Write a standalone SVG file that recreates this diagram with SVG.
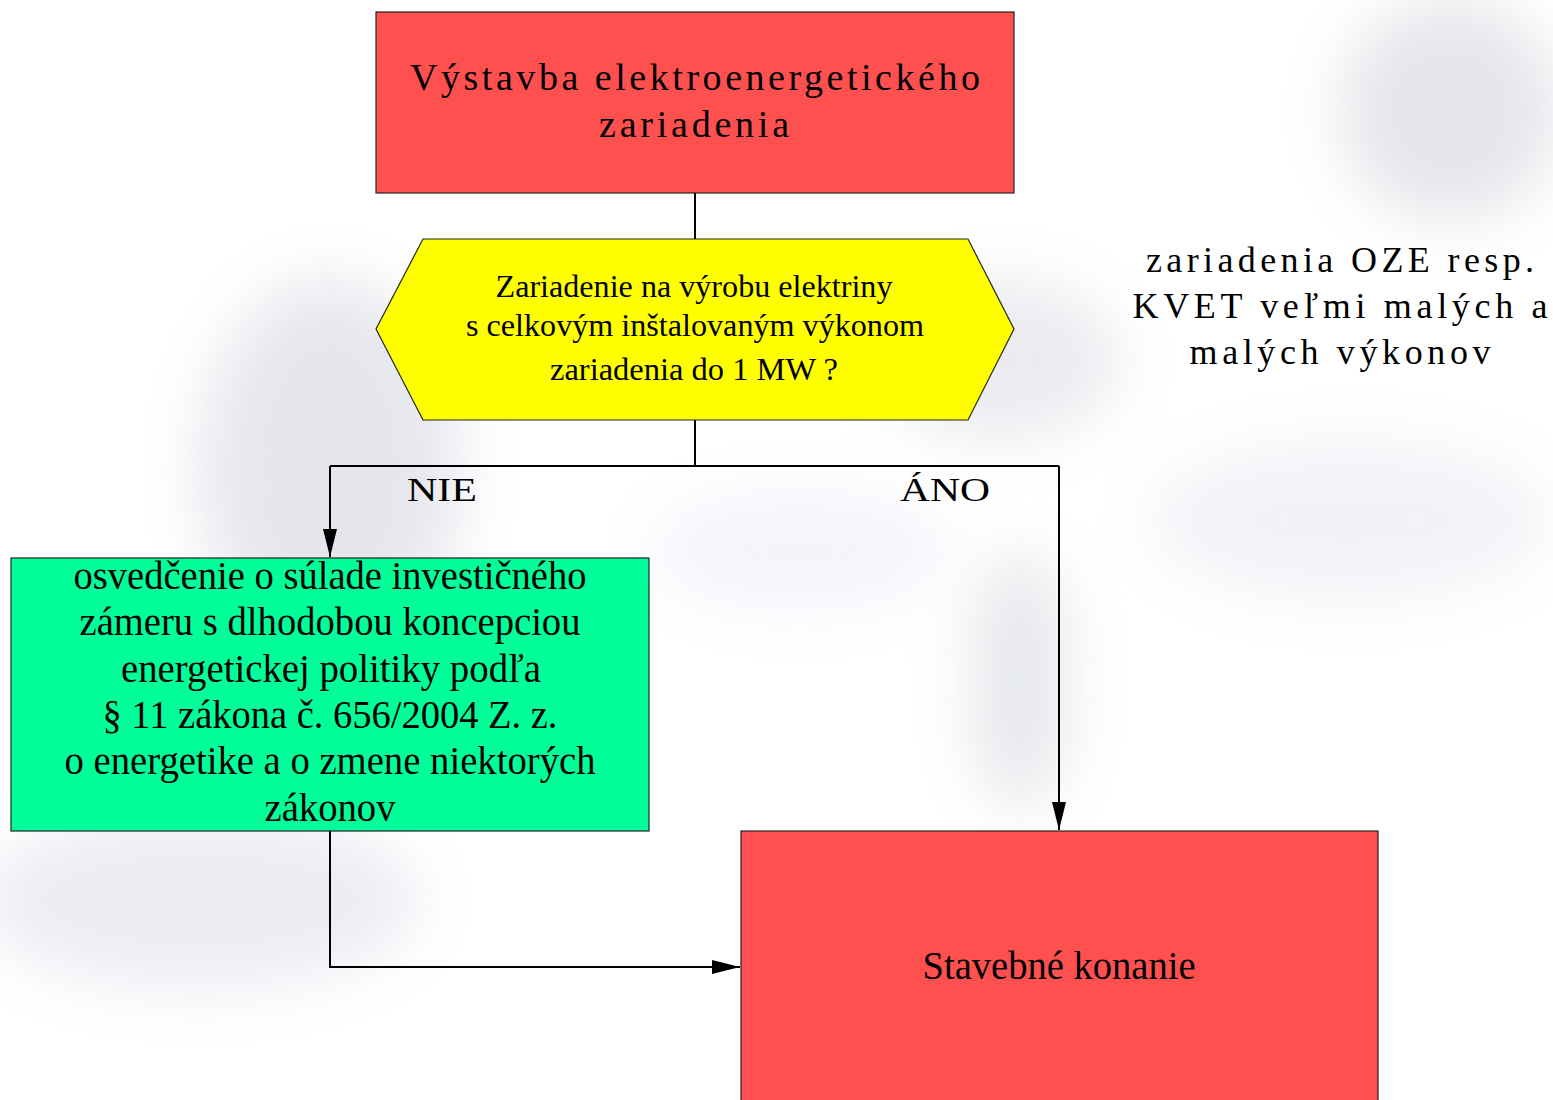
<svg xmlns="http://www.w3.org/2000/svg" width="1553" height="1100" viewBox="0 0 1553 1100">
<defs>
<style>
.box{stroke:#222;stroke-width:1.2}
.red{fill:#FF5050}
.yel{fill:#FFFF00}
.grn{fill:#00FF99}
.t{font-family:"Liberation Serif","Times New Roman",serif;fill:#000;text-anchor:middle}
.c{stroke:#000;stroke-width:2;fill:none}
</style>
<marker id="arr" viewBox="0 0 28 14" refX="28" refY="7" markerWidth="28" markerHeight="14" markerUnits="userSpaceOnUse" orient="auto">
<path d="M0,0 L28,7 L0,14 z" fill="#000"/>
</marker>
<filter id="bl" x="-50%" y="-50%" width="200%" height="200%"><feGaussianBlur stdDeviation="30"/></filter>
</defs>
<rect width="1553" height="1100" fill="#fff"/>
<g id="background" filter="url(#bl)" opacity="0.45">
<ellipse cx="330" cy="470" rx="130" ry="190" fill="#c8c8d8"/>
<ellipse cx="1450" cy="110" rx="110" ry="110" fill="#c4c8d0"/>
<ellipse cx="1020" cy="680" rx="50" ry="130" fill="#c8ccd4"/>
<ellipse cx="1000" cy="360" rx="120" ry="80" fill="#d0d4dc"/>
<ellipse cx="200" cy="900" rx="220" ry="90" fill="#d4d8e4"/>
<ellipse cx="1350" cy="520" rx="200" ry="80" fill="#e0e4ec"/>
<ellipse cx="800" cy="550" rx="150" ry="60" fill="#e4e8f4"/>
</g>
<g id="connectors">
<line class="c" x1="695" y1="193" x2="695" y2="239"/>
<line class="c" x1="695" y1="420" x2="695" y2="466"/>
<polyline class="c" points="330,466 1059,466"/>
<polyline class="c" points="330,466 330,557" marker-end="url(#arr)"/>
<polyline class="c" points="1059,466 1059,830" marker-end="url(#arr)"/>
<polyline class="c" points="330,831 330,967 740,967" marker-end="url(#arr)"/>
<text class="t" x="442" y="501" font-size="34" textLength="70" lengthAdjust="spacingAndGlyphs">NIE</text>
<text class="t" x="945" y="501" font-size="34" textLength="90" lengthAdjust="spacingAndGlyphs">ÁNO</text>
</g>
<g id="node-start">
<rect class="box red" x="376" y="12" width="638" height="181"/>
<text class="t" x="695" y="90" font-size="38" textLength="570" lengthAdjust="spacing">Výstavba elektroenergetického</text>
<text class="t" x="694" y="137" font-size="38" textLength="190" lengthAdjust="spacing">zariadenia</text>
</g>
<g id="node-decision">
<polygon class="box yel" points="376,329 423,239 968,239 1014,329 968,420 423,420"/>
<text class="t" x="694" y="297" font-size="31" textLength="397" lengthAdjust="spacingAndGlyphs">Zariadenie na výrobu elektriny</text>
<text class="t" x="695" y="336" font-size="31" textLength="458" lengthAdjust="spacingAndGlyphs">s celkovým inštalovaným výkonom</text>
<text class="t" x="694" y="380" font-size="31" textLength="288" lengthAdjust="spacingAndGlyphs">zariadenia do 1 MW ?</text>
</g>
<g id="node-certificate">
<rect class="box grn" x="11" y="558" width="638" height="273"/>
<g class="t" font-size="39">
<text x="330" y="589" textLength="513" lengthAdjust="spacingAndGlyphs">osvedčenie o súlade investičného</text>
<text x="330" y="635" textLength="501" lengthAdjust="spacingAndGlyphs">zámeru s dlhodobou koncepciou</text>
<text x="331" y="682" textLength="420" lengthAdjust="spacingAndGlyphs">energetickej politiky podľa</text>
<text x="330" y="728" textLength="455" lengthAdjust="spacingAndGlyphs">§ 11 zákona č. 656/2004 Z. z.</text>
<text x="330" y="774" textLength="531" lengthAdjust="spacingAndGlyphs">o energetike a o zmene niektorých</text>
<text x="330" y="821" textLength="131" lengthAdjust="spacingAndGlyphs">zákonov</text>
</g>
</g>
<g id="node-building">
<rect class="box red" x="741" y="831" width="637" height="280"/>
<text class="t" x="1059" y="979" font-size="39" textLength="273" lengthAdjust="spacingAndGlyphs">Stavebné konanie</text>
</g>
<g id="note">
<text class="t" x="1340" y="272" font-size="36" textLength="388" lengthAdjust="spacing">zariadenia OZE resp.</text>
<text class="t" x="1340" y="318" font-size="36" textLength="415" lengthAdjust="spacing">KVET veľmi malých a</text>
<text class="t" x="1340" y="364" font-size="36" textLength="301" lengthAdjust="spacing">malých výkonov</text>
</g>
</svg>
